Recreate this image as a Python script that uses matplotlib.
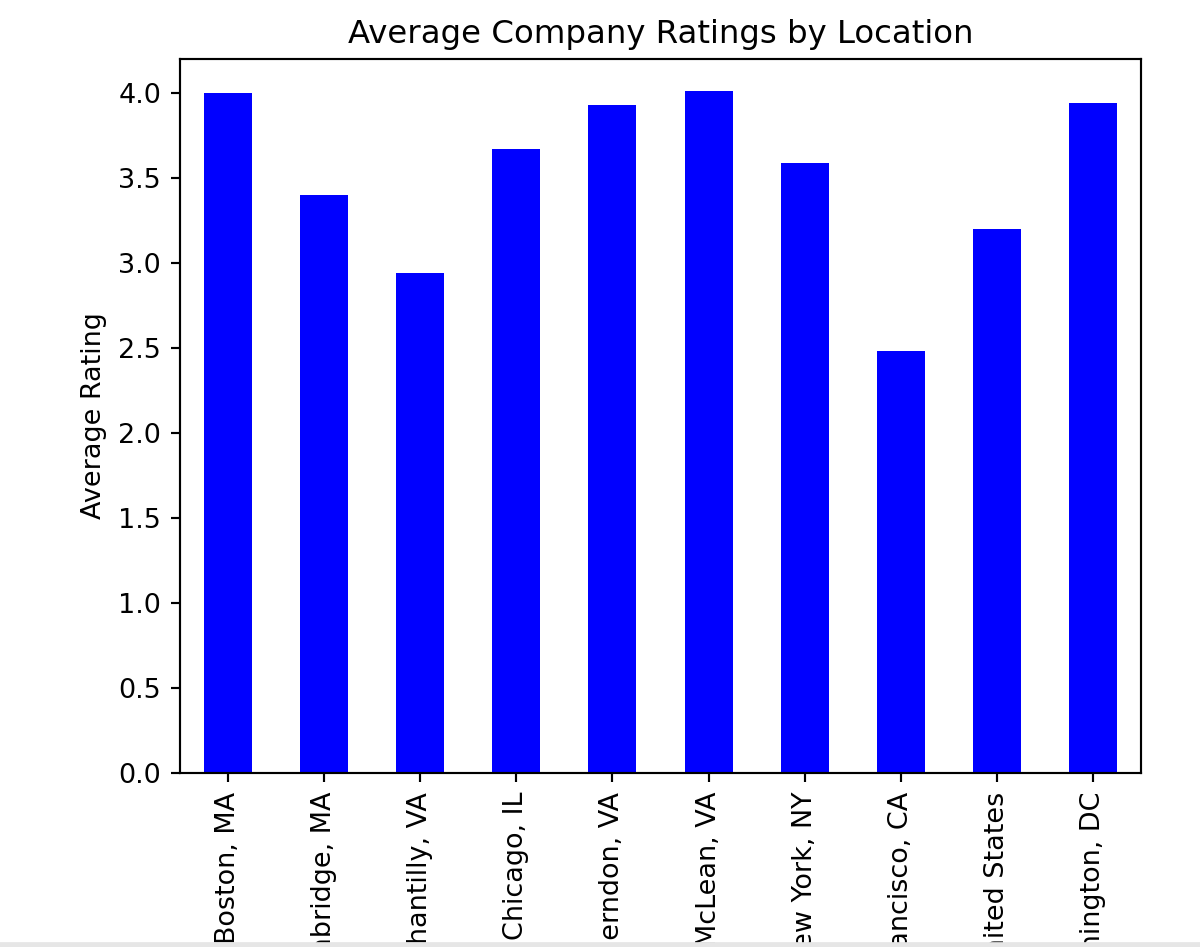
import matplotlib
matplotlib.use("Agg")
import matplotlib.pyplot as plt

locations = ["Boston, MA", "Cambridge, MA", "Chantilly, VA", "Chicago, IL",
             "Herndon, VA", "McLean, VA", "New York, NY", "San Francisco, CA",
             "United States", "Washington, DC"]
ratings = [4.00, 3.40, 2.94, 3.67, 3.93, 4.01, 3.59, 2.48, 3.20, 3.94]

dpi = 194
fig = plt.figure(figsize=(1200 / dpi, 947 / dpi), dpi=dpi)
ax = fig.add_axes([180 / 1200, 1 - 773 / 947, 961 / 1200, 714 / 947])

x = range(len(locations))
ax.bar(x, ratings, width=0.5, color="blue")
ax.set_xlim(-0.5, len(locations) - 0.5)
ax.set_ylim(0, 4.2)
ax.set_xticks(list(x))
ax.set_xticklabels(locations, rotation=90)
ax.set_ylabel("Average Rating")
ax.set_title("Average Company Ratings by Location")

# light strip along the bottom edge, as in the screenshot
fig.patches.append(plt.Rectangle((0, 0), 1, 4 / 947, transform=fig.transFigure,
                                 color="#e6e6e6", zorder=10))

fig.savefig("out.png", dpi=dpi)
